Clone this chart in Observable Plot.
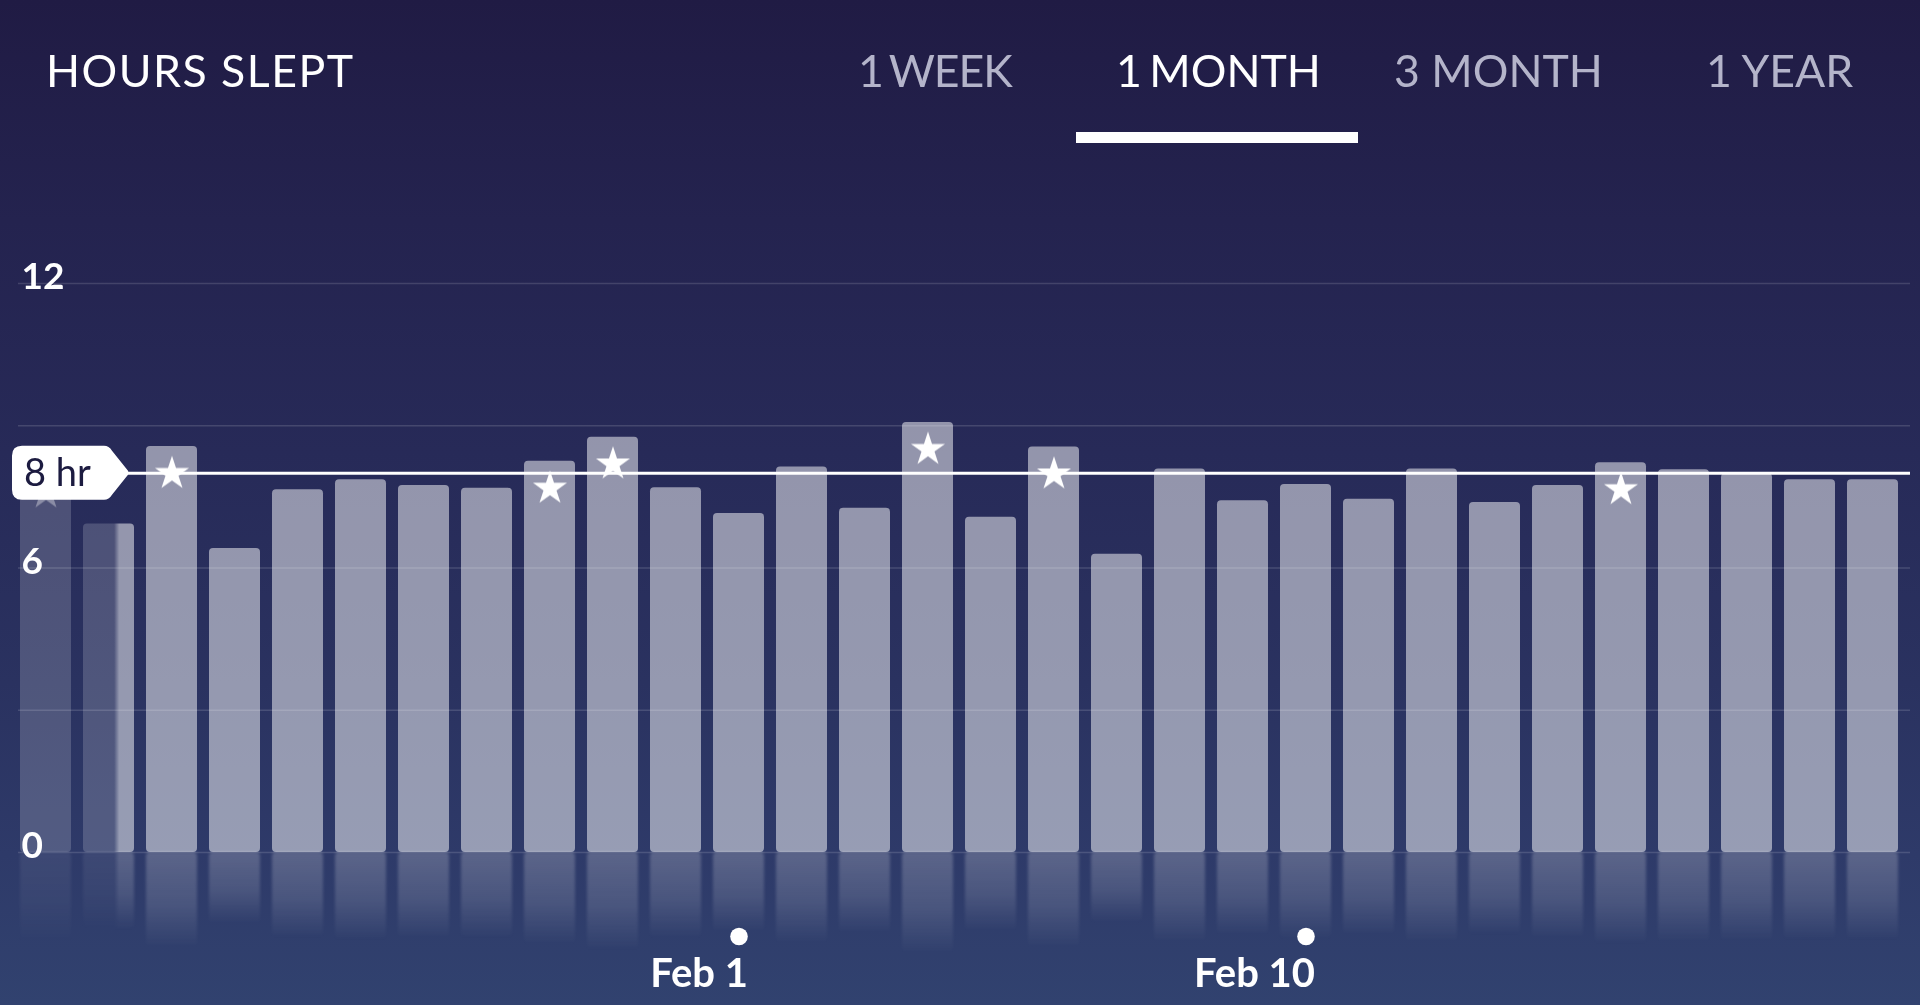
<!DOCTYPE html>
<html>
<head>
<meta charset="utf-8">
<script src="https://cdn.jsdelivr.net/npm/d3@7"></script>
<script src="https://cdn.jsdelivr.net/npm/@observablehq/plot@0.6"></script>
<style>
  html, body { margin: 0; padding: 0; width: 1920px; height: 1005px; overflow: hidden; }
  body {
    background: linear-gradient(180deg, #201b44 0%, #24234f 22%, #272a58 45%, #2a3260 68%, #2e3a69 85%, #31426f 100%);
    font-family: Lato, "Open Sans", sans-serif;
  }
  #header { position: relative; height: 150px; width: 1920px; }
  .h { position: absolute; top: 48px; font-size: 44.6px; line-height: 1; white-space: nowrap; color: #b4b4ca; }
  .title { color: #ffffff; letter-spacing: 1.5px; }
  .active { color: #ffffff; }
  .one { word-spacing: -4px; }
  #underline { position: absolute; left: 1076px; top: 132px; width: 282px; height: 11px; background: #ffffff; }
  #chart svg { display: block; }
</style>
</head>
<body>
<div id="header">
  <div class="h title" style="left:46px">HOURS SLEPT</div>
  <div class="h one" style="left:858px; letter-spacing:-1px">1 WEEK</div>
  <div class="h active one" style="left:1116px">1 MONTH</div>
  <div class="h" style="left:1394px">3 MONTH</div>
  <div class="h" style="left:1706px">1 YEAR</div>
  <div id="underline"></div>
</div>
<div id="chart"></div>
<script>
// ---- data ----
const dates = ["Jan 21","Jan 22","Jan 23","Jan 24","Jan 25","Jan 26","Jan 27","Jan 28","Jan 29","Jan 30","Jan 31",
               "Feb 1","Feb 2","Feb 3","Feb 4","Feb 5","Feb 6","Feb 7","Feb 8","Feb 9","Feb 10",
               "Feb 11","Feb 12","Feb 13","Feb 14","Feb 15","Feb 16","Feb 17","Feb 18","Feb 19"];
const hours = [8.15, 6.93, 8.56, 6.41, 7.65, 7.86, 7.74, 7.68, 8.25, 8.76, 7.69,
               7.15, 8.13, 7.26, 9.07, 7.07, 8.55, 6.29, 8.09, 7.42, 7.76,
               7.45, 8.09, 7.38, 7.74, 8.22, 8.07, 7.99, 7.86, 7.86];
const starred = [1,0,1,0,0,0,0,0,1,1,0,
                 0,0,0,1,0,1,0,0,0,0,
                 0,0,0,0,1,0,0,0,0];
const yTickLabels = [0, 6, 12];
const gridValues = [0, 3, 6, 9, 12];
const goal = 8;
const goalLabel = "8 hr";
const xTickLabels = ["Feb 1", "Feb 10"];
const reflectRatio = 0.235;

const rows = dates.map((d, i) => ({date: d, hours: hours[i], star: starred[i] === 1}));

const chart = Plot.plot({
  width: 1920,
  height: 855,
  marginLeft: 18,
  marginRight: 10,
  marginTop: 0,
  marginBottom: 0,
  style: {background: "none", color: "white", fontFamily: "Lato, 'Open Sans', sans-serif", overflow: "visible"},
  x: {type: "band", domain: dates, range: [8, 1911], padding: 0.183, axis: null},
  y: {domain: [0, 12], range: [702, 133], axis: null},
  marks: [
    Plot.ruleY(gridValues, {stroke: "white", strokeOpacity: 0.14, strokeWidth: 1.6}),
    Plot.barY(rows, {x: "date", y1: 0, y2: d => -d.hours * reflectRatio, fill: "url(#reflGrad)", rx: 4}),
    Plot.barY(rows, {x: "date", y: "hours", fill: "white", fillOpacity: 0.5, rx: 4}),
    Plot.dot(rows.filter(d => d.star), {x: "date", y: "hours", symbol: "star", r: 10.7, fill: "white", dy: 27}),
    Plot.ruleY([goal], {stroke: "white", strokeWidth: 3}),
    Plot.text(yTickLabels, {y: d => d, text: d => String(d), frameAnchor: "left", textAnchor: "start", dx: 3, dy: -6, fill: "white", fontSize: 37, fontWeight: 700}),
    Plot.dot(xTickLabels, {x: d => d, frameAnchor: "bottom", dy: -69, r: 8.8, fill: "white"}),
    Plot.text(xTickLabels, {x: d => d, text: d => d, frameAnchor: "bottom", dy: -19, dx: 9, textAnchor: "end", fill: "white", fontSize: 40, fontWeight: 700})
  ]
});

document.getElementById("chart").appendChild(chart);

// ---- decorations: gradients, left fade, goal tag ----
const svg = d3.select(chart);
const W = 1920, H = 855;
const xs = chart.scale("x");
const ys = chart.scale("y");
const fadeEdge = xs.apply(dates[1]) + xs.bandwidth * 0.65;

const defs = svg.insert("defs", ":first-child");
const rg = defs.append("linearGradient").attr("id", "reflGrad").attr("x1", 0).attr("y1", 0).attr("x2", 0).attr("y2", 1);
rg.append("stop").attr("offset", 0).attr("stop-color", "white").attr("stop-opacity", 0.22);
rg.append("stop").attr("offset", 0.55).attr("stop-color", "white").attr("stop-opacity", 0.13);
rg.append("stop").attr("offset", 1).attr("stop-color", "white").attr("stop-opacity", 0);

const blur = defs.append("filter").attr("id", "reflBlur").attr("x", "-20%").attr("y", "-20%").attr("width", "140%").attr("height", "140%");
blur.append("feGaussianBlur").attr("stdDeviation", 1.8);

const fg = defs.append("linearGradient").attr("id", "fadeGrad").attr("gradientUnits", "userSpaceOnUse")
  .attr("x1", 0).attr("y1", 0).attr("x2", W).attr("y2", 0);
fg.append("stop").attr("offset", 0).attr("stop-color", "white").attr("stop-opacity", 0.35);
fg.append("stop").attr("offset", (fadeEdge - 2) / W).attr("stop-color", "white").attr("stop-opacity", 0.35);
fg.append("stop").attr("offset", (fadeEdge + 3) / W).attr("stop-color", "white").attr("stop-opacity", 1);
fg.append("stop").attr("offset", 1).attr("stop-color", "white").attr("stop-opacity", 1);
const mask = defs.append("mask").attr("id", "leftFade").attr("maskUnits", "userSpaceOnUse")
  .attr("x", -200).attr("y", -400).attr("width", W + 400).attr("height", H + 800);
mask.append("rect").attr("x", -200).attr("y", -400).attr("width", W + 400).attr("height", H + 800).attr("fill", "url(#fadeGrad)");

const barGroups = svg.selectAll('g[aria-label="bar"]').nodes();
d3.select(barGroups[0]).attr("filter", "url(#reflBlur)");
barGroups.forEach(n => d3.select(n).attr("mask", "url(#leftFade)"));
svg.selectAll('g[aria-label="dot"]').attr("mask", "url(#leftFade)");

// goal tag
const gy = ys.apply(goal);
const L = 12, B = 104, T = 129, h = 27, r = 10;
const tag = svg.append("g");
tag.append("path")
  .attr("d", `M${L + r},${gy - h} H${B} Q${B + 5},${gy - h} ${B + 8},${gy - h + 5} L${T - 1},${gy - 2} Q${T},${gy} ${T - 1},${gy + 2} L${B + 8},${gy + h - 5} Q${B + 5},${gy + h} ${B},${gy + h} H${L + r} Q${L},${gy + h} ${L},${gy + h - r} V${gy - h + r} Q${L},${gy - h} ${L + r},${gy - h} Z`)
  .attr("fill", "white");
tag.append("text")
  .attr("x", 24).attr("y", gy).attr("dy", "0.36em")
  .attr("text-anchor", "start")
  .attr("fill", "#1c1b40")
  .attr("font-family", "Lato, 'Open Sans', sans-serif")
  .attr("font-size", 38)
  .text(goalLabel);
</script>
</body>
</html>
